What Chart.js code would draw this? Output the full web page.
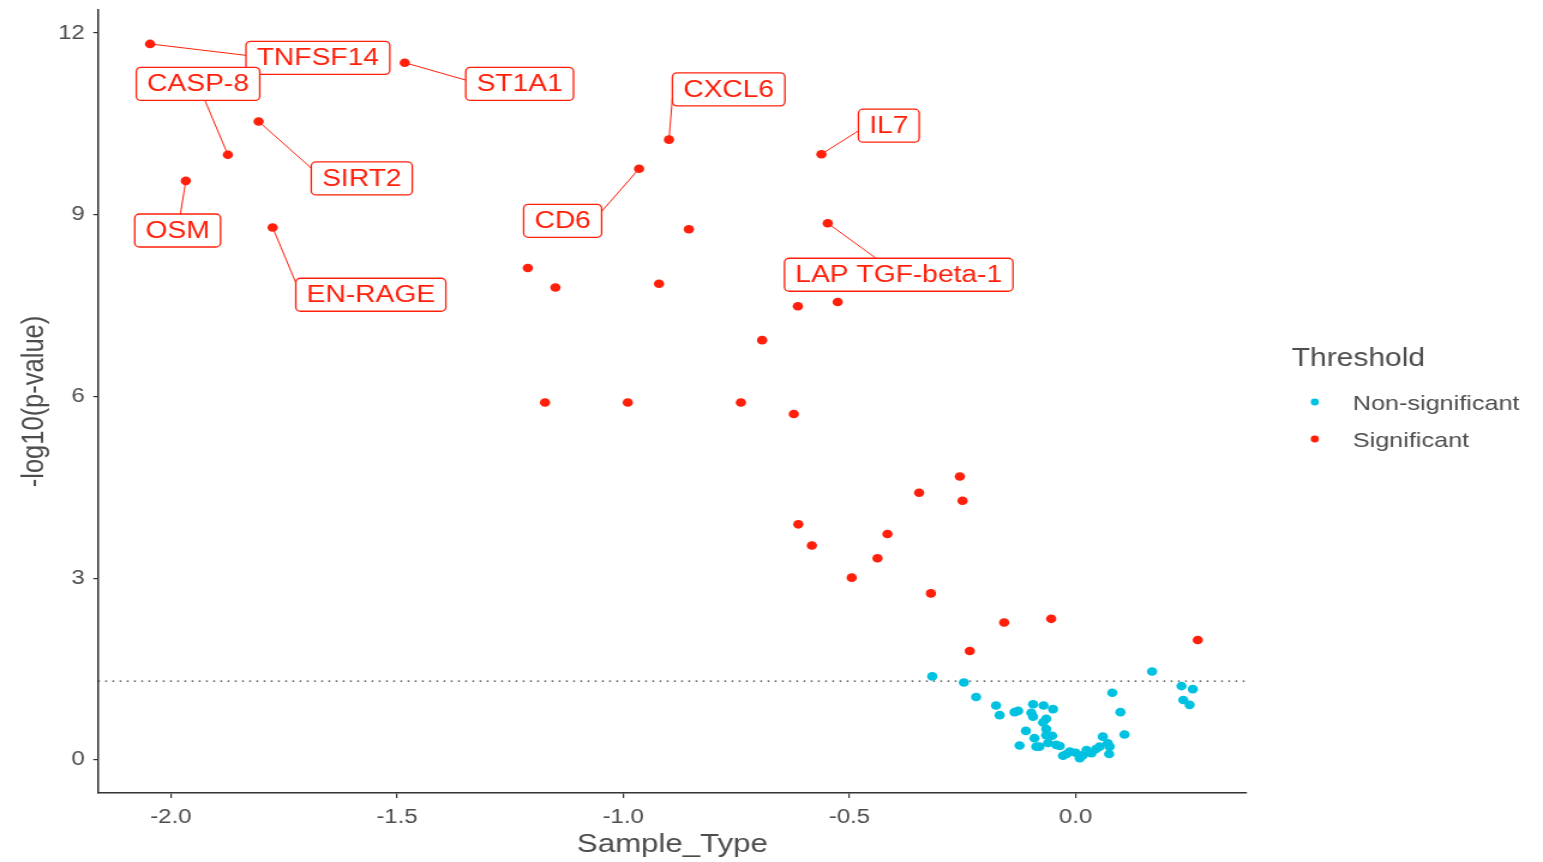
<!DOCTYPE html>
<html>
<head>
<meta charset="utf-8">
<script src="https://cdn.jsdelivr.net/npm/chart.js@4.4.0/dist/chart.umd.min.js"></script>
<style>
  html, body { margin: 0; padding: 0; background: #fff; overflow: hidden; }
  /* the reference is stretched sideways, so draw narrow and widen it */
  #wrap { width: 1286px; height: 862px; transform: scaleX(1.19984); transform-origin: 0 0; }
</style>
</head>
<body>
<div id="wrap"><canvas id="volcano" width="1286" height="862"></canvas></div>
<script>
// --- DATA ---
const sigX = [-2.046, -1.483, -1.874, -1.806, -1.967, -1.775, -0.899, -0.965, -0.562, -0.548,
              -0.855, -1.211, -1.150, -0.921, -0.614, -0.526, -0.693, -1.173, -0.990, -0.740,
              -0.623, -0.256, -0.346, -0.250, -0.613, -0.416, -0.583, -0.438, -0.495, -0.320,
              -0.234, -0.158, -0.054, 0.270];
const sigY = [11.82, 11.51, 9.99, 10.54, 9.56, 8.79, 10.24, 9.76, 10.00, 8.86,
              8.76, 8.12, 7.80, 7.86, 7.49, 7.56, 6.93, 5.90, 5.90, 5.90,
              5.71, 4.68, 4.41, 4.28, 3.89, 3.73, 3.54, 3.33, 3.01, 2.75,
              1.80, 2.27, 2.33, 1.98];

const nsX = [-0.317, -0.247, -0.220, -0.176, -0.168, -0.135, -0.127, -0.094, -0.071, -0.050,
             -0.098, -0.094, -0.065, -0.072, -0.110, -0.065, -0.065, -0.091, -0.124, -0.087,
             -0.061, -0.043, -0.028, -0.013, 0.009, 0.024, 0.035, 0.053, 0.060, 0.071,
             0.075, 0.074, 0.081, 0.099, 0.108, 0.169, 0.234, 0.259, 0.238, 0.252,
             -0.020, 0.000, 0.016, -0.035, -0.052, 0.045, -0.080];
const nsY = [1.38, 1.28, 1.04, 0.90, 0.74, 0.79, 0.81, 0.92, 0.90, 0.84,
             0.78, 0.715, 0.68, 0.62, 0.48, 0.51, 0.41, 0.36, 0.24, 0.22,
             0.28, 0.25, 0.07, 0.14, 0.03, 0.165, 0.11, 0.22, 0.385, 0.275,
             0.22, 0.10, 1.11, 0.79, 0.42, 1.46, 1.22, 1.17, 0.99, 0.91,
             0.10, 0.12, 0.08, 0.23, 0.40, 0.18, 0.22];

// labelled proteins: index into the significant arrays, and where the label sits (data units)
const labelNames = ["TNFSF14", "CASP-8", "ST1A1", "SIRT2", "OSM", "EN-RAGE", "CXCL6", "CD6", "IL7", "LAP TGF-beta-1"];
const labelPoint = [0, 2, 1, 3, 4, 5, 6, 7, 8, 9];
const labelX = [-1.675, -1.940, -1.229, -1.578, -1.985, -1.558, -0.767, -1.134, -0.413, -0.391];
const labelY = [11.59, 11.16, 11.16, 9.60, 8.74, 7.68, 11.07, 8.90, 10.47, 8.01];

const xTicks = [-2.0, -1.5, -1.0, -0.5, 0.0];
const yTicks = [0, 3, 6, 9, 12];
const threshold = 1.301; // -log10(0.05)

const RED = "#FF1F0A";
const BLUE = "#00C2E0";
const GREY = "#4d4d4d";
const FONT = '"Liberation Sans", Arial, sans-serif';

// --- PLUGINS ---
const thresholdLine = {
  id: "thresholdLine",
  beforeDatasetsDraw(chart) {
    const { ctx, chartArea, scales } = chart;
    const y = scales.y.getPixelForValue(threshold);
    ctx.save();
    ctx.strokeStyle = "#333";
    ctx.lineWidth = 1.3;
    ctx.setLineDash([1.5, 4.5]);
    ctx.beginPath();
    ctx.moveTo(chartArea.left, y);
    ctx.lineTo(chartArea.right, y);
    ctx.stroke();
    ctx.restore();
  }
};

// where the leader line meets the label box (roughly what ggrepel does)
function edgePoint(px, py, cx, cy, w, h) {
  const x1 = cx - w / 2, x2 = cx + w / 2;
  if (px < x1 || px > x2) {
    const ex = px < x1 ? x1 : x2;
    const ey = cy + Math.max(-h / 2, Math.min(h / 2, 0.18 * (py - cy)));
    return [ex, ey];
  }
  const ey = py < cy ? cy - h / 2 : cy + h / 2;
  return [px + (cx - px) * (ey - py) / (cy - py), ey];
}

const repelLabels = {
  id: "repelLabels",
  afterDatasetsDraw(chart) {
    const ctx = chart.ctx, xs = chart.scales.x, ys = chart.scales.y;
    ctx.save();
    ctx.font = "23.5px " + FONT;
    labelNames.forEach((name, i) => {
      const k = labelPoint[i];
      const px = xs.getPixelForValue(sigX[k]), py = ys.getPixelForValue(sigY[k]);
      const cx = xs.getPixelForValue(labelX[i]), cy = ys.getPixelForValue(labelY[i]);
      const w = ctx.measureText(name).width + 18, h = 33;

      const [ex, ey] = edgePoint(px, py, cx, cy, w, h);
      ctx.strokeStyle = RED;
      ctx.lineWidth = 1;
      ctx.beginPath();
      ctx.moveTo(px, py);
      ctx.lineTo(ex, ey);
      ctx.stroke();

      ctx.beginPath();
      ctx.roundRect(cx - w / 2, cy - h / 2, w, h, 4);
      ctx.fillStyle = "#fff";
      ctx.fill();
      ctx.strokeStyle = RED;
      ctx.lineWidth = 1.3;
      ctx.stroke();

      ctx.fillStyle = RED;
      ctx.textAlign = "center";
      ctx.textBaseline = "middle";
      ctx.fillText(name, cx, cy + 1);
    });
    ctx.restore();
  }
};

const sideLegend = {
  id: "sideLegend",
  afterDraw(chart) {
    const ctx = chart.ctx;
    const items = chart.data.datasets;
    ctx.save();
    ctx.textBaseline = "middle";
    ctx.textAlign = "left";
    ctx.fillStyle = GREY;
    ctx.font = "25px " + FONT;
    ctx.fillText("Threshold", 1076.5, 359);
    ctx.font = "21px " + FONT;
    [403, 440].forEach((y, i) => {
      ctx.fillStyle = items[i].backgroundColor;
      ctx.beginPath();
      ctx.arc(1095.8, y - 1, 3.4, 0, Math.PI * 2);
      ctx.fill();
      ctx.fillStyle = GREY;
      ctx.fillText(items[i].label, 1127.5, y + 1);
    });
    ctx.restore();
  }
};

// --- CHART ---
const toPoints = (xs, ys) => xs.map((x, i) => ({ x: x, y: ys[i] }));

new Chart(document.getElementById("volcano"), {
  type: "scatter",
  data: {
    datasets: [
      { label: "Non-significant", data: toPoints(nsX, nsY), backgroundColor: BLUE, borderWidth: 0, pointRadius: 4.3 },
      { label: "Significant", data: toPoints(sigX, sigY), backgroundColor: RED, borderWidth: 0, pointRadius: 4.3 }
    ]
  },
  options: {
    responsive: false,
    animation: false,
    layout: { padding: { top: 10, right: 247, left: 0, bottom: 0 } },
    plugins: { legend: { display: false }, tooltip: { enabled: false } },
    scales: {
      x: {
        type: "linear",
        min: -2.161, max: 0.378,
        afterBuildTicks: s => { s.ticks = xTicks.map(v => ({ value: v })); },
        afterFit: s => { s.height = 69; s.paddingLeft = 0; s.paddingRight = 0; },
        ticks: { callback: v => v.toFixed(1), color: GREY, font: { size: 20, family: FONT }, padding: 7 },
        grid: { drawOnChartArea: false, drawTicks: true, tickLength: 5, color: "#333", lineWidth: 1.2 },
        border: { display: true, color: "#333", width: 1.5 },
        title: { display: true, text: "Sample_Type", color: GREY, font: { size: 26, family: FONT }, padding: { top: 0, bottom: 2 } }
      },
      y: {
        type: "linear",
        min: -0.545, max: 12.38,
        afterBuildTicks: s => { s.ticks = yTicks.map(v => ({ value: v })); },
        afterFit: s => { s.width = 81.7; s.paddingTop = 0; s.paddingBottom = 0; },
        ticks: { callback: v => String(v), color: GREY, font: { size: 20, family: FONT }, padding: 7 },
        grid: { drawOnChartArea: false, drawTicks: true, tickLength: 4, color: "#333", lineWidth: 1.2 },
        border: { display: true, color: "#333", width: 1.5 },
        title: { display: true, text: "-log10(p-value)", color: GREY, font: { size: 25.5, family: FONT }, padding: { top: 14, bottom: 0 } }
      }
    }
  },
  plugins: [thresholdLine, repelLabels, sideLegend]
});
</script>
</body>
</html>
